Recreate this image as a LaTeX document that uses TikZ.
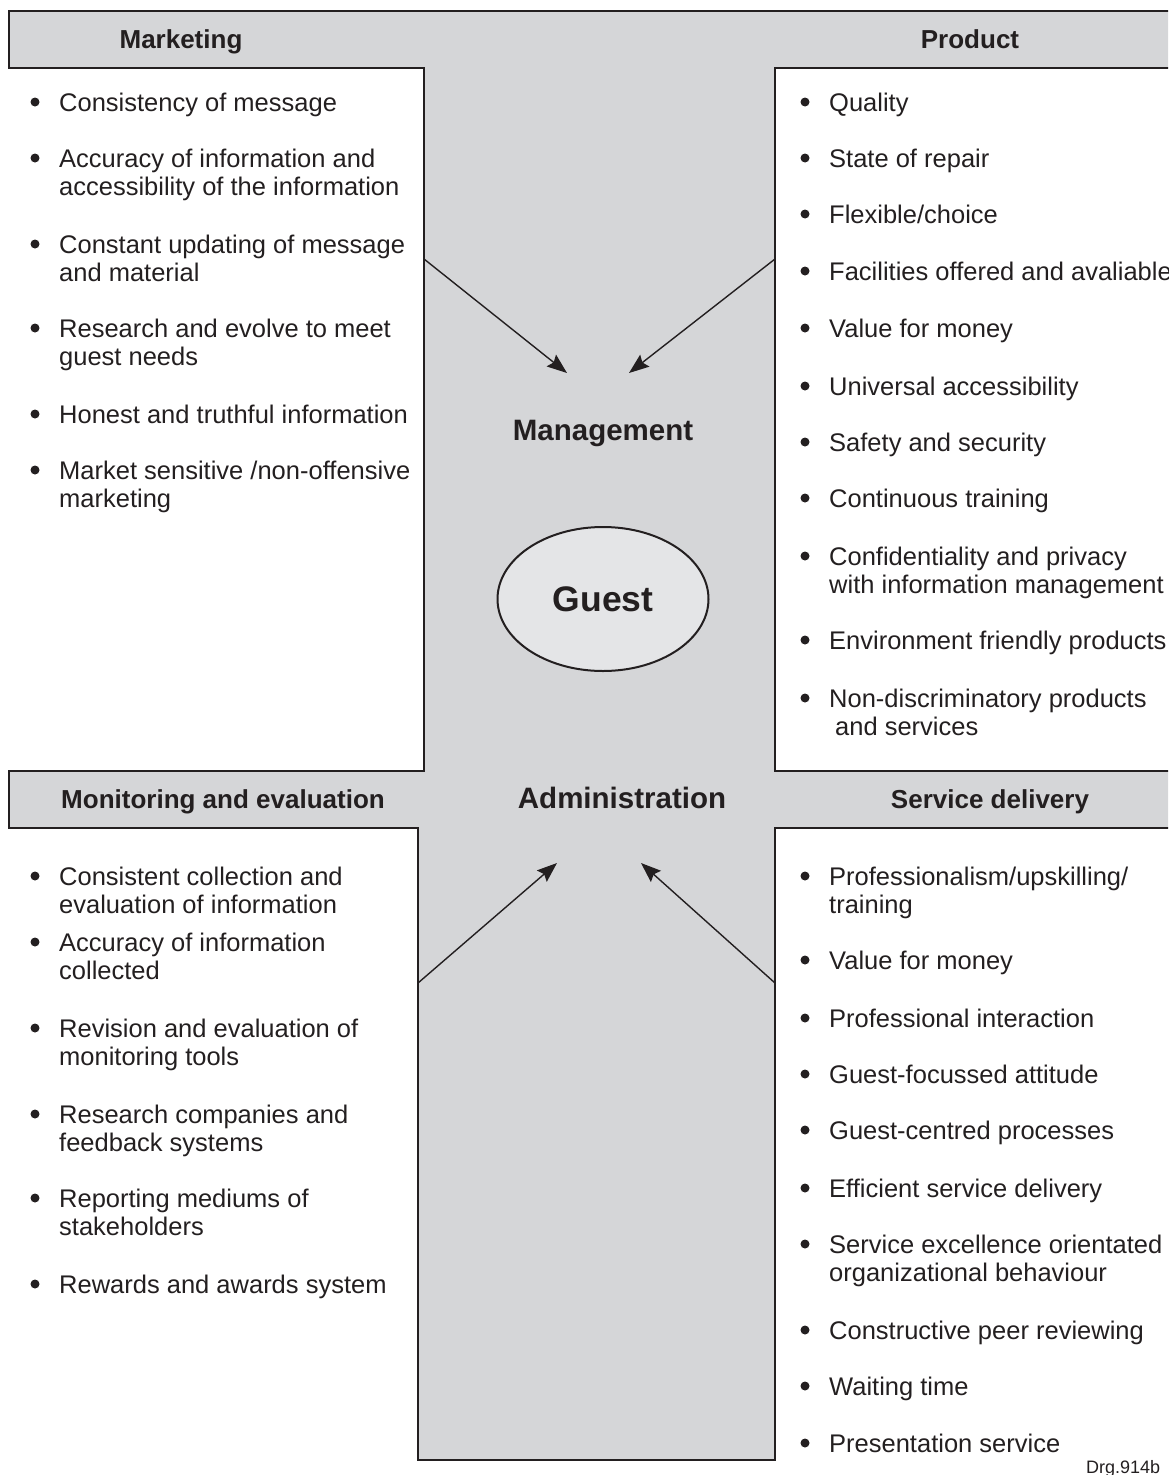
\documentclass[tikz,border=0pt]{standalone}
\usepackage{fontspec}
\setmainfont{Liberation Sans}
\usetikzlibrary{arrows.meta,shapes.geometric}
\definecolor{panelgray}{HTML}{D5D6D8}
\definecolor{guestgray}{HTML}{E4E5E7}
\definecolor{ink}{HTML}{231F20}
\tikzset{
    guest diagram/.style = {x=1pt, y=-1pt,
                            >={Stealth[length=20pt, width=15pt, inset=3pt]}},
    panel/.style         = {draw=ink, line width=1.4pt, fill=panelgray},
    heading/.style       = {font=\fontsize{26}{28}\selectfont\bfseries,
                            text=ink, anchor=base, inner sep=0pt},
    hub/.style           = {font=\fontsize{29.5}{32}\selectfont\bfseries,
                            text=ink, anchor=base, inner sep=0pt},
    guest/.style         = {ellipse, draw=ink, line width=2pt, fill=guestgray,
                            inner sep=0pt, minimum width=211pt,
                            minimum height=144pt,
                            font=\fontsize{35.5}{38}\selectfont\bfseries,
                            text=ink},
    entry/.style         = {font=\fontsize{25.5}{28}\selectfont, text=ink,
                            align=left, anchor=north west, inner sep=0pt},
    dot/.style           = {circle, fill=ink, inner sep=0pt,
                            minimum size=9pt},
    link/.style          = {->, draw=ink, line width=1.4pt}
}
\def\leftbullet{35}
\def\leftindent{59}
\def\rightbullet{805}
\def\rightindent{829}

\begin{document}
\begin{tikzpicture}[guest diagram]
\useasboundingbox (0,0) rectangle (1168,1475);
\clip (0,0) rectangle (1168,1475);

% Grey cross with the four white panels cut out of it.
\draw[panel] (9,11) -- (1190,11) -- (1190,68) -- (775,68) -- (775,771)
    -- (1190,771) -- (1190,828) -- (775,828) -- (775,1460) -- (418,1460)
    -- (418,828) -- (9,828) -- (9,771) -- (424,771) -- (424,68)
    -- (9,68) -- cycle;

% Headings of the four panels.
\node[heading] (mkt) at (181,48) {Marketing};
\node[heading] (prod) at (970,48) {Product};
\node[heading] (mon) at (223,808) {Monitoring and evaluation};
\node[heading] (svc) at (990,808) {Service delivery};

% Centre of the cross.
\node[hub] (mgmt) at (603,440) {Management};
\node[hub] (adm) at (622,808) {Administration};
\node[guest] (gst) at (603,599) {Guest};

% Marketing list.
\foreach \y/\txt [count=\i] in {
    111/{Consistency of message},
    167/{Accuracy of information and\\accessibility of the information},
    253/{Constant updating of message\\and material},
    337/{Research and evolve to meet\\guest needs},
    423/{Honest and truthful information},
    479/{Market sensitive /non-offensive\\marketing}}{
    \node[dot] (mkt-dot-\i) at (\leftbullet,\y-9) {};
    \node[entry] (mkt-\i) at (\leftindent,\y-19.6) {\strut\txt};
}

% Product list.
\foreach \y/\txt [count=\i] in {
    111/{Quality},
    167/{State of repair},
    223/{Flexible/choice},
    280/{Facilities offered and avaliable},
    337/{Value for money},
    395/{Universal accessibility},
    451/{Safety and security},
    507/{Continuous training},
    565/{Confidentiality and privacy\\with information management},
    649/{Environment friendly products},
    707/{Non-discriminatory products\\\hspace{6pt}and services}}{
    \node[dot] (prod-dot-\i) at (\rightbullet,\y-9) {};
    \node[entry] (prod-\i) at (\rightindent,\y-19.6) {\strut\txt};
}

% Monitoring and evaluation list.
\foreach \y/\txt [count=\i] in {
    885/{Consistent collection and\\evaluation of information},
    951/{Accuracy of information\\collected},
    1037/{Revision and evaluation of\\monitoring tools},
    1123/{Research companies and\\feedback systems},
    1207/{Reporting mediums of\\stakeholders},
    1293/{Rewards and awards system}}{
    \node[dot] (mon-dot-\i) at (\leftbullet,\y-9) {};
    \node[entry] (mon-\i) at (\leftindent,\y-19.6) {\strut\txt};
}

% Service delivery list.
\foreach \y/\txt [count=\i] in {
    885/{Professionalism/upskilling/\\training},
    969/{Value for money},
    1027/{Professional interaction},
    1083/{Guest-focussed attitude},
    1139/{Guest-centred processes},
    1197/{Efficient service delivery},
    1253/{Service excellence orientated\\organizational behaviour},
    1339/{Constructive peer reviewing},
    1395/{Waiting time},
    1452/{Presentation service}}{
    \node[dot] (svc-dot-\i) at (\rightbullet,\y-9) {};
    \node[entry] (svc-\i) at (\rightindent,\y-19.6) {\strut\txt};
}

% Arrows from the panels towards the centre.
\coordinate (mkt-out) at (424,259);
\coordinate (prod-out) at (775,259);
\coordinate (mon-out) at (418,983);
\coordinate (svc-out) at (775,983);
\coordinate (mgmt-in-l) at (567,373);
\coordinate (mgmt-in-r) at (629,373);
\coordinate (adm-in-l) at (557,863);
\coordinate (adm-in-r) at (641,863);
\draw[link] (mkt-out) -- (mgmt-in-l);
\draw[link] (prod-out) -- (mgmt-in-r);
\draw[link] (mon-out) -- (adm-in-l);
\draw[link] (svc-out) -- (adm-in-r);

\node[anchor=base west, inner sep=0pt, text=ink,
    font=\fontsize{18}{20}\selectfont] (drg) at (1086,1473) {Drg.914b};

\end{tikzpicture}
\end{document}
